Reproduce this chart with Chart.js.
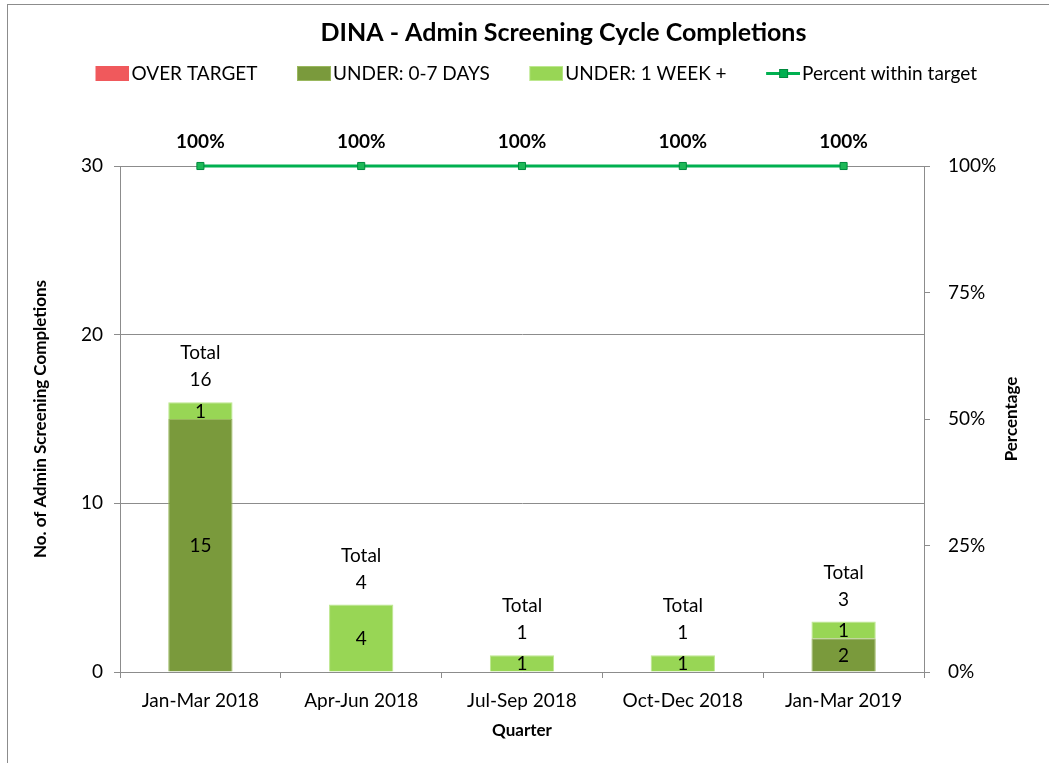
<!DOCTYPE html>
<html>
<head>
<meta charset="utf-8">
<script src="https://cdn.jsdelivr.net/npm/chart.js@4"></script>
<style>
  html, body { margin: 0; padding: 0; background: #fff; }
  #wrap { width: 1049px; height: 763px; }
</style>
</head>
<body>
<div id="wrap"><canvas id="screeningChart"></canvas></div>
<script>
// Admin screening cycle completions by quarter
const quarters = ['Jan-Mar 2018', 'Apr-Jun 2018', 'Jul-Sep 2018', 'Oct-Dec 2018', 'Jan-Mar 2019'];
const overTarget = [0, 0, 0, 0, 0];
const under0to7 = [15, 0, 0, 0, 2];
const under1Week = [1, 4, 1, 1, 1];
const pctWithin = [1, 1, 1, 1, 1];
const countTicks = [0, 10, 20, 30];
const pctTicks = [0, 0.25, 0.5, 0.75, 1];

const FONT = "Lato, 'Open Sans', sans-serif";
const GRID = '#8c8c8c';

// legend swatch on a small canvas; shape sits at the right edge so it hugs the text
function swatch(fill, stroke, isLine) {
    const c = document.createElement('canvas');
    c.width = 65;
    c.height = 15;
    const g = c.getContext('2d');
    if (isLine) {
        g.strokeStyle = fill;
        g.lineWidth = 3;
        g.beginPath();
        g.moveTo(31, 7.5);
        g.lineTo(65, 7.5);
        g.stroke();
        g.fillStyle = fill;
        g.fillRect(44, 3, 9, 9);
        g.strokeStyle = stroke;
        g.lineWidth = 1;
        g.strokeRect(44.5, 3.5, 8, 8);
    } else {
        g.fillStyle = fill;
        g.fillRect(31, 0, 34, 15);
        g.strokeStyle = stroke;
        g.lineWidth = 1;
        g.strokeRect(31.5, 0.5, 33, 14);
    }
    return c;
}

const labelPlugin = {
    id: 'labels',
    beforeInit(chart) {
        // leave room under the legend down to the plot top
        const legend = chart.legend;
        const fit = legend.fit;
        legend.fit = function() {
            fit.call(this);
            this.height = 118;
        };
    },
    afterLayout(chart) {
        chart.titleBlock.left += 31;
        chart.titleBlock.right += 31;
        chart.legend.left -= 8;
        chart.legend.right -= 8;
    },
    beforeDraw(chart) {
        const ctx = chart.ctx;
        ctx.save();
        ctx.strokeStyle = GRID;
        ctx.lineWidth = 1;
        ctx.strokeRect(7.5, 4.5, 1200, 900);
        ctx.restore();
    },
    afterDatasetsDraw(chart) {
        const ctx = chart.ctx;
        const area = chart.chartArea;
        ctx.save();
        ctx.fillStyle = '#000';
        ctx.textAlign = 'center';
        ctx.textBaseline = 'middle';

        // values inside the stacked segments
        ctx.font = '19px ' + FONT;
        [0, 1, 2].forEach(di => {
            const meta = chart.getDatasetMeta(di);
            meta.data.forEach((el, i) => {
                const v = chart.data.datasets[di].data[i];
                if (!v) return;
                ctx.fillText(String(v), el.x, (el.y + el.base) / 2 + 1);
            });
        });

        // totals above each bar
        quarters.forEach((q, i) => {
            let total = 0;
            let top = Infinity;
            let x = 0;
            [0, 1, 2].forEach(di => {
                const el = chart.getDatasetMeta(di).data[i];
                const v = chart.data.datasets[di].data[i];
                total += v;
                x = el.x;
                if (v > 0) top = Math.min(top, el.y);
            });
            ctx.fillText('Total', x, top - 49);
            ctx.fillText(String(total), x, top - 22);
        });

        // percent labels over the line
        ctx.font = 'bold 19px ' + FONT;
        chart.getDatasetMeta(3).data.forEach((pt, i) => {
            ctx.fillText(Math.round(pctWithin[i] * 100) + '%', pt.x, pt.y - 24);
        });

        // right axis title, reading bottom to top
        ctx.font = 'bold 17px ' + FONT;
        ctx.translate(1012, (area.top + area.bottom) / 2);
        ctx.rotate(-Math.PI / 2);
        ctx.fillText('Percentage', 0, 0);
        ctx.restore();
    }
};

new Chart(document.getElementById('screeningChart'), {
    type: 'bar',
    data: {
        labels: quarters,
        datasets: [{
            label: 'OVER TARGET',
            data: overTarget,
            backgroundColor: '#f0595c',
            borderColor: '#f0595c',
            borderWidth: 0,
            yAxisID: 'y',
            order: 1
        }, {
            label: 'UNDER: 0-7 DAYS',
            data: under0to7,
            backgroundColor: '#7a9a3c',
            borderColor: '#9ab85e',
            borderWidth: 1,
            yAxisID: 'y',
            order: 1
        }, {
            label: 'UNDER: 1 WEEK +',
            data: under1Week,
            backgroundColor: '#98d655',
            borderColor: '#bde88f',
            borderWidth: 1,
            yAxisID: 'y',
            order: 1
        }, {
            type: 'line',
            label: 'Percent within target',
            data: pctWithin,
            borderColor: '#00b050',
            backgroundColor: '#00b050',
            borderWidth: 3,
            clip: false,
            pointStyle: 'rect',
            pointRadius: 5,
            pointBackgroundColor: '#1db857',
            pointBorderColor: '#00893d',
            pointBorderWidth: 1,
            yAxisID: 'y1',
            order: 0
        }]
    },
    options: {
        responsive: true,
        maintainAspectRatio: false,
        animation: false,
        datasets: {
            bar: {
                barPercentage: 0.4,
                categoryPercentage: 1
            }
        },
        layout: {
            padding: { top: 6, left: 16, right: 0, bottom: 20 }
        },
        plugins: {
            title: {
                display: true,
                text: 'DINA - Admin Screening Cycle Completions',
                color: '#000',
                font: { family: FONT, size: 25, weight: 'bold' },
                padding: { top: 12, bottom: 0 }
            },
            legend: {
                display: true,
                position: 'top',
                labels: {
                    usePointStyle: true,
                    pointStyleWidth: 50,
                    boxHeight: 15,
                    padding: 16,
                    color: '#000',
                    font: { family: FONT, size: 19 },
                    generateLabels(chart) {
                        return chart.data.datasets.map((ds, i) => ({
                            text: ds.label,
                            pointStyle: swatch(ds.backgroundColor, ds.type === 'line' ? '#00893d' : ds.borderColor, ds.type === 'line'),
                            datasetIndex: i,
                            hidden: false,
                            lineWidth: 0,
                            fillStyle: ds.backgroundColor,
                            strokeStyle: 'transparent',
                            fontColor: '#000'
                        }));
                    }
                }
            },
            tooltip: { enabled: false }
        },
        scales: {
            x: {
                stacked: true,
                afterFit(scale) { scale.height = 71; },
                grid: {
                    display: true,
                    offset: true,
                    drawOnChartArea: false,
                    tickLength: 6,
                    color: GRID
                },
                border: { display: true, color: GRID },
                ticks: {
                    color: '#000',
                    padding: 11,
                    maxRotation: 0,
                    font: { family: FONT, size: 19 }
                },
                title: {
                    display: true,
                    text: 'Quarter',
                    color: '#000',
                    font: { family: FONT, size: 17, weight: 'bold' },
                    padding: { top: 0, bottom: 2 }
                }
            },
            y: {
                stacked: true,
                position: 'left',
                min: 0,
                max: 30,
                afterFit(scale) { scale.width = 104; },
                afterBuildTicks(scale) {
                    scale.ticks = countTicks.map(v => ({ value: v }));
                },
                grid: {
                    color: GRID,
                    tickLength: 6
                },
                border: { display: true, color: GRID },
                ticks: {
                    color: '#000',
                    padding: 11,
                    font: { family: FONT, size: 19 }
                },
                title: {
                    display: true,
                    text: 'No. of Admin Screening Completions',
                    color: '#000',
                    font: { family: FONT, size: 17, weight: 'bold' },
                    padding: { top: 14, bottom: 0 }
                }
            },
            y1: {
                position: 'right',
                min: 0,
                max: 1,
                afterFit(scale) { scale.width = 125; },
                afterBuildTicks(scale) {
                    scale.ticks = pctTicks.map(v => ({ value: v }));
                },
                grid: {
                    drawOnChartArea: false,
                    color: GRID,
                    tickLength: 6
                },
                border: { display: true, color: GRID },
                ticks: {
                    color: '#000',
                    padding: 18,
                    font: { family: FONT, size: 19 },
                    callback: function(value) {
                        return Math.round(value * 100) + '%';
                    }
                }
            }
        }
    },
    plugins: [labelPlugin]
});
</script>
</body>
</html>
